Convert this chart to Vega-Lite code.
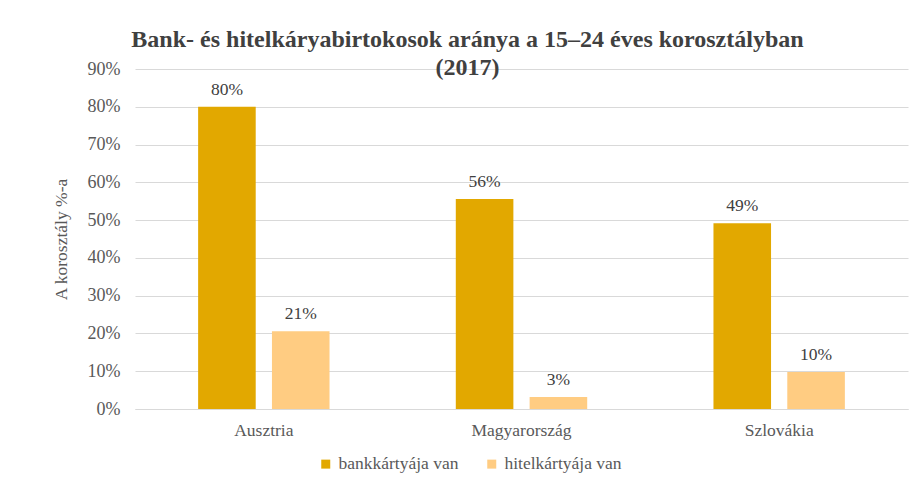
{
  "$schema": "https://vega.github.io/schema/vega-lite/v6.json",
  "width": 773,
  "height": 340,
  "autosize": {"type": "none"},
  "padding": {"left": 135, "top": 69, "right": 3, "bottom": 70},
  "background": "white",
  "config": {
    "view": {"stroke": null}
  },
  "title": {
    "text": ["Bank- és hitelkáryabirtokosok aránya a 15–24 éves korosztályban", "(2017)"],
    "font": "Liberation Serif",
    "fontSize": 24,
    "fontWeight": "bold",
    "color": "#404040",
    "frame": "group",
    "anchor": "middle",
    "dx": -54,
    "offset": -20,
    "lineHeight": 28
  },
  "data": {
    "values": [
      {"orszag": "Ausztria", "tipus": "bankkártyája van", "arany": 0.80},
      {"orszag": "Ausztria", "tipus": "hitelkártyája van", "arany": 0.206},
      {"orszag": "Magyarország", "tipus": "bankkártyája van", "arany": 0.556},
      {"orszag": "Magyarország", "tipus": "hitelkártyája van", "arany": 0.032},
      {"orszag": "Szlovákia", "tipus": "bankkártyája van", "arany": 0.492},
      {"orszag": "Szlovákia", "tipus": "hitelkártyája van", "arany": 0.098}
    ]
  },
  "encoding": {
    "x": {
      "field": "orszag", "type": "nominal", "sort": null,
      "scale": {"paddingInner": 0.49, "paddingOuter": 0.245},
      "axis": {"title": null, "labelAngle": 0, "labelFontSize": 17.5, "labelColor": "#595959", "labelFont": "Liberation Serif", "ticks": false, "domainColor": "#D9D9D9", "labelPadding": 12}
    },
    "xOffset": {"field": "tipus", "type": "nominal", "scale": {"paddingInner": 0.22, "paddingOuter": 0}},
    "y": {
      "field": "arany", "type": "quantitative",
      "scale": {"domain": [0, 0.9], "nice": false},
      "axis": {"title": "A korosztály %-a", "titleFont": "Liberation Serif", "titleFontSize": 17.5, "titleFontWeight": "normal", "titleColor": "#595959", "titlePadding": 17, "format": ".0%", "values": [0, 0.1, 0.2, 0.3, 0.4, 0.5, 0.6, 0.7, 0.8, 0.9], "labelOverlap": false, "labelFont": "Liberation Serif", "labelFontSize": 18, "labelColor": "#595959", "labelPadding": 15, "ticks": false, "domain": false, "gridColor": "#D9D9D9", "gridWidth": 1}
    }
  },
  "layer": [
    {
      "mark": {"type": "bar"},
      "encoding": {
        "color": {
          "field": "tipus", "type": "nominal",
          "scale": {"domain": ["bankkártyája van", "hitelkártyája van"], "range": ["#E2A800", "#FFCC82"]},
          "legend": {"title": null, "orient": "none", "legendX": 182, "legendY": 386, "direction": "horizontal", "symbolType": "square", "symbolSize": 81, "symbolStrokeWidth": 0, "labelFont": "Liberation Serif", "labelFontSize": 17.5, "labelColor": "#595959", "columnPadding": 24, "labelOffset": 4}
        }
      }
    },
    {
      "mark": {"type": "text", "baseline": "alphabetic", "dy": -12, "fontSize": 17.5, "color": "#404040", "font": "Liberation Serif"},
      "encoding": {"text": {"field": "arany", "type": "quantitative", "format": ".0%"}}
    }
  ]
}
